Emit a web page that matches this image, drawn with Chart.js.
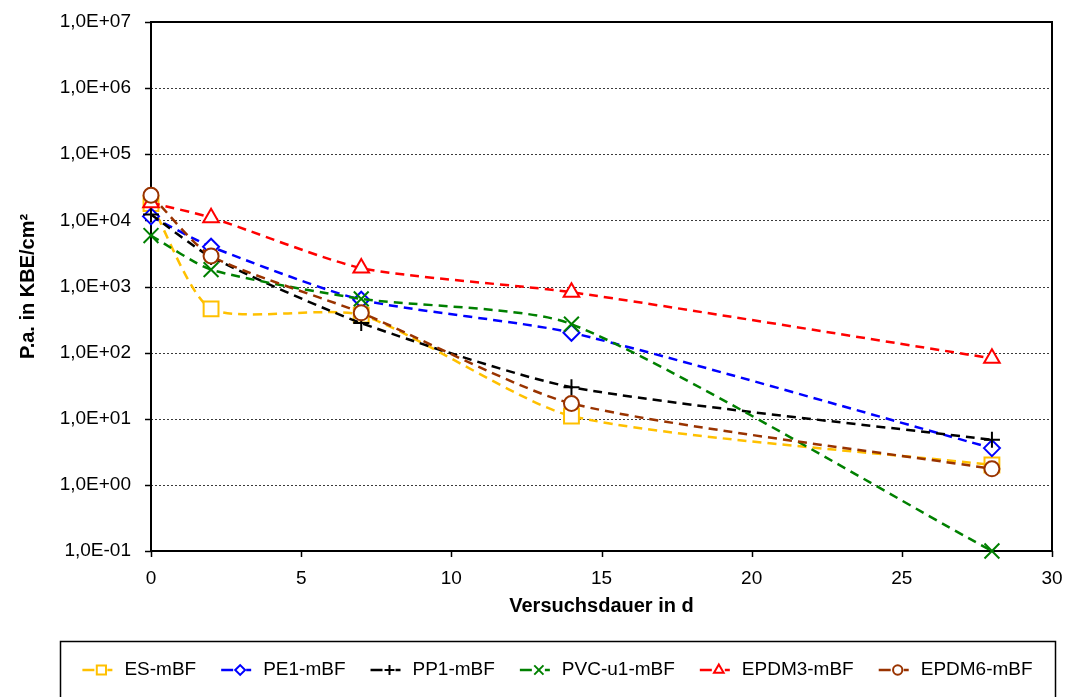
<!DOCTYPE html>
<html>
<head>
<meta charset="utf-8">
<script src="https://cdn.jsdelivr.net/npm/chart.js@4/dist/chart.umd.min.js"></script>
<style>
  html, body { margin: 0; padding: 0; background: #fff; }
  #wrap { width: 1067px; height: 697px; position: relative; }
</style>
</head>
<body>
<div id="wrap"><canvas id="c" width="1067" height="697"></canvas></div>
<script>
// Test duration in days
const days = [0, 2, 7, 14, 28];

// Colony counts (KBE/cm²) per material
const esMbf     = [18000, 460, 370, 11, 2.0];
const pe1Mbf    = [11500, 4000, 630, 200, 3.6];
const pp1Mbf    = [12300, 2800, 280, 30, 4.8];
const pvcU1Mbf  = [5900, 1800, 650, 270, 0.1];
const epdm3Mbf  = [18500, 11000, 1900, 820, 82];
const epdm6Mbf  = [24000, 2900, 400, 17, 1.75];

const seriesNames = ['ES-mBF', 'PE1-mBF', 'PP1-mBF', 'PVC-u1-mBF', 'EPDM3-mBF', 'EPDM6-mBF'];
const seriesValues = [esMbf, pe1Mbf, pp1Mbf, pvcU1Mbf, epdm3Mbf, epdm6Mbf];
const seriesColors = ['#FFC000', '#0000FF', '#000000', '#008000', '#FF0000', '#993300'];
const seriesMarkers = ['rect', 'rectRot', 'cross', 'crossRot', 'triangle', 'circle'];
const markerRadius = [10.5, 8, 8, 10.5, 9, 7.5];

// Axis ticks
const xTickValues = [0, 5, 10, 15, 20, 25, 30];
const yTickValues = [1e-1, 1e0, 1e1, 1e2, 1e3, 1e4, 1e5, 1e6, 1e7];
const yTickLabels = ['1,0E-01', '1,0E+00', '1,0E+01', '1,0E+02', '1,0E+03', '1,0E+04', '1,0E+05', '1,0E+06', '1,0E+07'];

const xTitle = 'Versuchsdauer in d';
const yTitle = 'P.a. in KBE/cm²';

const FONT = "'Liberation Sans', Arial, sans-serif";
const DASH = [9, 6];

const datasets = seriesNames.map((name, i) => ({
  label: name,
  data: days.map((d, j) => ({ x: d, y: seriesValues[i][j] })),
  order: seriesNames.length - i,
  borderColor: seriesColors[i],
  borderWidth: 2.5,
  borderDash: DASH,
  tension: 0.22,
  fill: false,
  clip: false,
  pointStyle: seriesMarkers[i],
  pointRadius: markerRadius[i],
  pointHoverRadius: markerRadius[i],
  pointBorderColor: seriesColors[i],
  pointBackgroundColor: '#FFFFFF',
  pointBorderWidth: 2
}));

// Scales keep no extra label overhang so the layout padding alone sets the plot box
function noOverhang(s) {
  s.paddingTop = 0; s.paddingBottom = 0; s.paddingLeft = 0; s.paddingRight = 0;
}

// Frame, dotted grid, tick marks, axis titles and legend box
const frame = {
  id: 'frame',
  beforeDatasetsDraw(chart) {
    const { ctx, chartArea: a, scales: { x, y } } = chart;
    ctx.save();
    ctx.strokeStyle = '#3a3a3a';
    ctx.lineWidth = 1;
    ctx.setLineDash([2, 2]);
    yTickValues.slice(1, -1).forEach(v => {
      const py = Math.round(y.getPixelForValue(v)) + 0.5;
      ctx.beginPath(); ctx.moveTo(a.left, py); ctx.lineTo(a.right, py); ctx.stroke();
    });
    ctx.setLineDash([]);
    ctx.strokeStyle = '#000';
    ctx.lineWidth = 1.5;
    yTickValues.forEach(v => {
      const py = Math.round(y.getPixelForValue(v)) + 0.5;
      ctx.beginPath(); ctx.moveTo(a.left - 6, py); ctx.lineTo(a.left, py); ctx.stroke();
    });
    xTickValues.forEach(v => {
      const px = Math.round(x.getPixelForValue(v)) + 0.5;
      ctx.beginPath(); ctx.moveTo(px, a.bottom); ctx.lineTo(px, a.bottom + 6); ctx.stroke();
    });
    ctx.lineWidth = 2;
    ctx.strokeRect(a.left, a.top, a.right - a.left, a.bottom - a.top);
    ctx.restore();
  },
  afterDraw(chart) {
    const { ctx, chartArea: a } = chart;
    ctx.save();
    ctx.fillStyle = '#000';
    ctx.font = 'bold 20px ' + FONT;
    ctx.textAlign = 'center';
    ctx.textBaseline = 'middle';
    ctx.fillText(xTitle, (a.left + a.right) / 2, 606);
    ctx.translate(28, (a.top + a.bottom) / 2);
    ctx.rotate(-Math.PI / 2);
    ctx.fillText(yTitle, 0, 0);
    ctx.restore();

    // legend
    ctx.save();
    ctx.strokeStyle = '#000';
    ctx.lineWidth = 1.5;
    ctx.strokeRect(60.5, 641.5, 995, 80);
    ctx.font = '19px ' + FONT;
    const widths = seriesNames.map(n => ctx.measureText(n).width);
    const itemGap = 25;
    const total = widths.reduce((s, w) => s + 42 + w, 0) + itemGap * (seriesNames.length - 1);
    let xPos = 60 + (995 - total) / 2;
    const yMid = 670;
    seriesNames.forEach((name, i) => {
      const mx = xPos + 19;
      ctx.strokeStyle = seriesColors[i];
      ctx.lineWidth = 2.5;
      ctx.beginPath(); ctx.moveTo(xPos, yMid); ctx.lineTo(xPos + 12, yMid); ctx.stroke();
      ctx.beginPath(); ctx.moveTo(mx + 6, yMid); ctx.lineTo(mx + 11, yMid); ctx.stroke();
      ctx.fillStyle = '#FFFFFF';
      ctx.lineWidth = 2;
      Chart.helpers.drawPoint(ctx, { pointStyle: seriesMarkers[i], radius: markerRadius[i] * 0.62, rotation: 0, borderWidth: 2 }, mx, yMid);
      ctx.fillStyle = '#000';
      ctx.textAlign = 'left';
      ctx.textBaseline = 'middle';
      ctx.fillText(name, xPos + 42, yMid);
      xPos += 42 + widths[i] + itemGap;
    });
    ctx.restore();
  }
};

new Chart(document.getElementById('c'), {
  type: 'line',
  data: { datasets },
  plugins: [frame],
  options: {
    responsive: false,
    animation: false,
    devicePixelRatio: 1,
    layout: { padding: { left: 0, top: 22, right: 15, bottom: 106 } },
    plugins: { legend: { display: false }, tooltip: { enabled: false } },
    scales: {
      x: {
        type: 'linear',
        min: 0, max: 30,
        grid: { display: false, drawTicks: false },
        border: { display: false },
        afterBuildTicks: s => { s.ticks = xTickValues.map(v => ({ value: v })); },
        afterFit: s => { s.height = 40; noOverhang(s); },
        ticks: { padding: 16, color: '#000', font: { family: FONT, size: 19 } }
      },
      y: {
        type: 'logarithmic',
        min: yTickValues[0], max: yTickValues[yTickValues.length - 1],
        grid: { display: false, drawTicks: false },
        border: { display: false },
        afterBuildTicks: s => { s.ticks = yTickValues.map(v => ({ value: v })); },
        afterFit: s => { s.width = 151; noOverhang(s); },
        ticks: {
          padding: 20, color: '#000', font: { family: FONT, size: 19 },
          callback: (v) => yTickLabels[yTickValues.findIndex(t => Math.abs(Math.log10(t) - Math.log10(v)) < 1e-6)]
        }
      }
    }
  }
});
</script>
</body>
</html>
